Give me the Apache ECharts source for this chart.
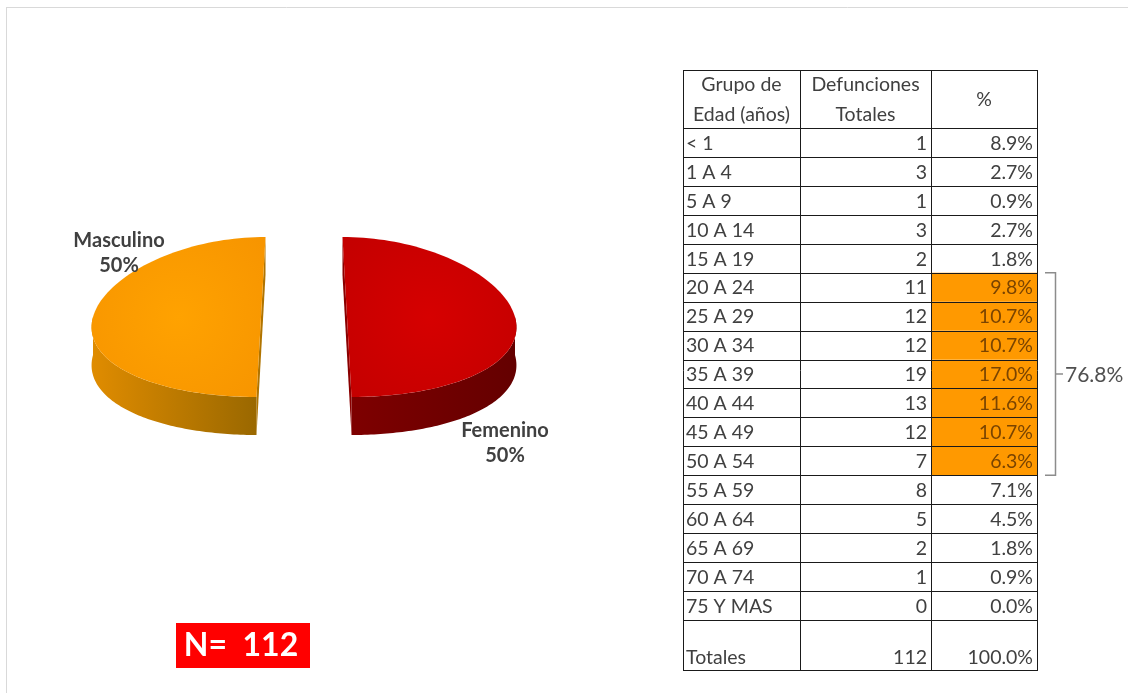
<!DOCTYPE html>
<html><head><meta charset="utf-8">
<script src="https://cdn.jsdelivr.net/npm/echarts/dist/echarts.min.js"></script>
<style>html,body{margin:0;padding:0;background:#fff}#c{width:1128px;height:693px}</style>
</head><body><div id="c"></div>
<script>
// ---------- DATA ----------
const genderNames = ['Masculino', 'Femenino'];
const genderValues = [56, 56];
const ageGroups = ['< 1','1 A 4','5 A 9','10 A 14','15 A 19','20 A 24','25 A 29','30 A 34','35 A 39','40 A 44','45 A 49','50 A 54','55 A 59','60 A 64','65 A 69','70 A 74','75 Y MAS'];
const deaths = [1,3,1,3,2,11,12,12,19,13,12,7,8,5,2,1,0];
const percents = [8.9,2.7,0.9,2.7,1.8,9.8,10.7,10.7,17.0,11.6,10.7,6.3,7.1,4.5,1.8,0.9,0.0];
const highlighted = [0,0,0,0,0,1,1,1,1,1,1,1,0,0,0,0,0];
const headers = [['Grupo de','Edad (años)'], ['Defunciones','Totales'], ['%']];
const totalLabel = 'Totales';
const totalPercent = 100.0;

// ---------- LAYOUT / STYLE ----------
const FONT = 'Lato';
const TXT = '#404040';
const PIE = {cx:304, cy:317, rx:168, ry:80, depth:38, explode:43, persp:0.105};
const sliceColors = [
  {top:['#FFA200','#F79500'], side:['#E08C00','#9A6800'], cut:'#B07400'},
  {top:['#D60000','#C40000'], side:['#7E0000','#640000'], cut:'#8A0000'}
];
const labelPos = [[119, 253], [505, 443]];
const TB = {x:[683,800,931,1037], top:70, headH:58, rowH:28.94, totH:50};

const totalDeaths = deaths.reduce((a,b)=>a+b,0);
const totalGender = genderValues.reduce((a,b)=>a+b,0);

function proj(U, v, z){ return [PIE.cx + U*(1+PIE.persp*v), PIE.cy + PIE.ry*v + z]; }

function renderSlice(params, api){
  const i = params.dataIndex;
  let before = 0; for (let k=0;k<i;k++) before += genderValues[k];
  const val = api.value(0);
  const t0 = before/totalGender*2*Math.PI, t1 = (before+val)/totalGender*2*Math.PI, tm=(t0+t1)/2;
  const eu = -Math.sin(tm)*PIE.explode, ev = -Math.cos(tm)*PIE.explode/PIE.rx;
  const rim = (t,z) => proj(eu + PIE.rx*(-Math.sin(t)), -Math.cos(t)+ev, z);
  const ctr = z => proj(eu, ev, z);
  const c = sliceColors[i];
  const N = 90, children = [];
  // cut faces
  [t0,t1].forEach(t=>{
    children.push({type:'polygon', shape:{points:[ctr(0), rim(t,0), rim(t,PIE.depth), ctr(PIE.depth)]}, style:{fill:c.cut}});
  });
  // front side wall
  const a = Math.max(t0, Math.PI/2), b = Math.min(t1, 3*Math.PI/2);
  if (b > a) {
    const pts=[];
    for (let s=0;s<=N;s++) pts.push(rim(a+(b-a)*s/N,0));
    for (let s=N;s>=0;s--) pts.push(rim(a+(b-a)*s/N,PIE.depth));
    children.push({type:'polygon', shape:{points:pts}, style:{fill:new echarts.graphic.LinearGradient(0,0,1,0,[{offset:0,color:c.side[0]},{offset:1,color:c.side[1]}])}});
  }
  // top face
  const top=[ctr(0)];
  for (let s=0;s<=N;s++) top.push(rim(t0+(t1-t0)*s/N,0));
  children.push({type:'polygon', shape:{points:top}, style:{fill:new echarts.graphic.RadialGradient(0.5,0.5,0.7,[{offset:0,color:c.top[0]},{offset:1,color:c.top[1]}])}});
  // label
  const pct = Math.round(val/totalGender*100);
  children.push({type:'text', x:labelPos[i][0], y:labelPos[i][1], style:{
    text: api.value(1) + '\n' + pct + '%', align:'center', verticalAlign:'middle',
    font:'bold 20px ' + FONT, fill:TXT, lineHeight:25}});
  return {type:'group', children};
}

// ---------- TABLE (graphic) ----------
const g = [];
const rowTop = r => TB.top + TB.headH + r*TB.rowH;
const tableBottom = rowTop(ageGroups.length) + TB.totH;
ageGroups.forEach((_,r)=>{
  if (highlighted[r]) g.push({type:'rect', shape:{x:TB.x[2], y:rowTop(r), width:TB.x[3]-TB.x[2], height:TB.rowH}, style:{fill:'#FF9900'}});
});
const hl = [TB.top, TB.top+TB.headH];
ageGroups.forEach((_,r)=>hl.push(rowTop(r+1)));
hl.push(tableBottom);
hl.forEach(y=>{ const yy=Math.round(y)+0.5; g.push({type:'line', shape:{x1:TB.x[0], y1:yy, x2:TB.x[3]+1, y2:yy}, style:{stroke:'#1a1a1a', lineWidth:1}}); });
TB.x.forEach(x=>{ const xx=x+0.5; g.push({type:'line', shape:{x1:xx, y1:Math.round(TB.top), x2:xx, y2:Math.round(tableBottom)+1}, style:{stroke:'#1a1a1a', lineWidth:1}}); });
const rowFont = '19.5px ' + FONT;
headers.forEach((lines,ci)=>{
  const cx = (TB.x[ci]+TB.x[ci+1])/2;
  const cy = TB.top + TB.headH/2;
  g.push({type:'text', x:cx, y:cy+1, style:{text:lines.join('\n'), align:'center', verticalAlign:'middle', font:rowFont, fill:TXT, lineHeight:30}});
});
ageGroups.forEach((name,r)=>{
  const cy = rowTop(r) + TB.rowH/2 + 1;
  g.push({type:'text', x:TB.x[0]+3, y:cy, style:{text:name, align:'left', verticalAlign:'middle', font:rowFont, fill:TXT}});
  g.push({type:'text', x:TB.x[2]-4, y:cy, style:{text:String(deaths[r]), align:'right', verticalAlign:'middle', font:rowFont, fill:TXT}});
  g.push({type:'text', x:TB.x[3]-4, y:cy, style:{text:percents[r].toFixed(1)+'%', align:'right', verticalAlign:'middle', font:rowFont, fill: highlighted[r] ? '#7A4400' : TXT}});
});
const ty = tableBottom - 12;
g.push({type:'text', x:TB.x[0]+3, y:ty, style:{text:totalLabel, align:'left', verticalAlign:'middle', font:rowFont, fill:TXT}});
g.push({type:'text', x:TB.x[2]-4, y:ty, style:{text:String(totalDeaths), align:'right', verticalAlign:'middle', font:rowFont, fill:TXT}});
g.push({type:'text', x:TB.x[3]-4, y:ty, style:{text:totalPercent.toFixed(1)+'%', align:'right', verticalAlign:'middle', font:rowFont, fill:TXT}});
// bracket
const hIdx = highlighted.map((h,i)=>h?i:-1).filter(i=>i>=0);
const by0 = rowTop(hIdx[0]), by1 = rowTop(hIdx[hIdx.length-1]+1);
const bx = 1055.5, bmid = (by0+by1)/2;
g.push({type:'polyline', shape:{points:[[1045,by0],[bx,by0],[bx,by1],[1045,by1]]}, style:{stroke:'#8c8c8c', lineWidth:1.5, fill:null}});
g.push({type:'line', shape:{x1:bx, y1:bmid, x2:1063, y2:bmid}, style:{stroke:'#8c8c8c', lineWidth:1.5}});
const hlSum = hIdx.reduce((s,i)=>s+percents[i],0);
g.push({type:'text', x:1065, y:bmid+1, style:{text:hlSum.toFixed(1)+'%', align:'left', verticalAlign:'middle', font:'21px '+FONT, fill:'#505050'}});
// N box
g.push({type:'rect', shape:{x:176, y:623, width:134, height:45}, style:{fill:'#FF0000'}});
g.push({type:'text', x:241, y:646, style:{text:'N=  ' + totalDeaths, align:'center', verticalAlign:'middle', font:'bold 32px '+FONT, fill:'#FFFFFF'}});
// outer frame
g.push({type:'line', shape:{x1:6, y1:7.5, x2:1128, y2:7.5}, style:{stroke:'#d9d9d9', lineWidth:1}});
g.push({type:'line', shape:{x1:6.5, y1:7, x2:6.5, y2:693}, style:{stroke:'#d9d9d9', lineWidth:1}});

const chart = echarts.init(document.getElementById('c'), null, {renderer:'canvas'});
chart.setOption({
  backgroundColor:'#ffffff',
  animation:false,
  series:[{
    type:'custom', coordinateSystem:'none', silent:true,
    renderItem: renderSlice,
    data: genderValues.map((v,i)=>({name:genderNames[i], value:[v, genderNames[i]]}))
  }],
  graphic: g
});
</script>
</body></html>
